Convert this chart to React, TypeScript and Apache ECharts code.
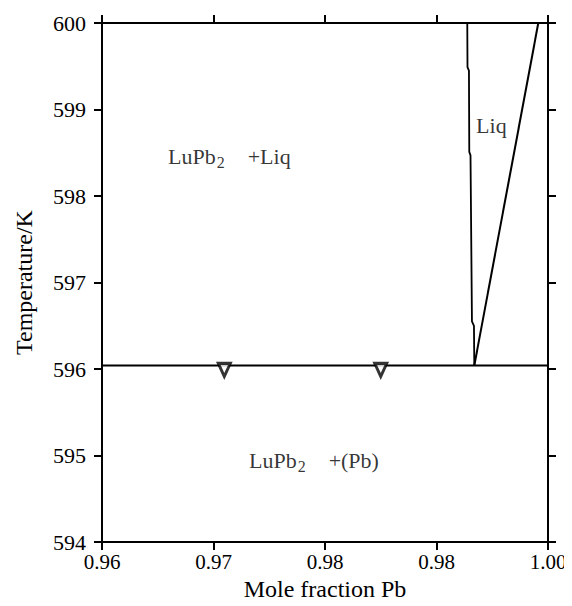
import React, { useEffect, useRef } from "react";
import * as echarts from "echarts";

const xTickLabels = ["0.96", "0.97", "0.98", "0.98", "1.00"];
const yTickLabels = ["594", "595", "596", "597", "598", "599", "600"];

const eutecticT = 596.04;
const eutecticLine: number[][] = [
  [0.96, eutecticT],
  [1.0, eutecticT],
];
const solidusLine: number[][] = [
  [0.99276, 600.0],
  [0.99278, 599.49],
  [0.99291, 599.45],
  [0.99294, 598.51],
  [0.99305, 598.47],
  [0.99318, 596.55],
  [0.99336, 596.5],
  [0.99339, 596.04],
];
const liquidusLine: number[][] = [
  [0.99339, 596.04],
  [0.99913, 600.0],
];
const markers: number[][] = [
  [0.97097, 595.99],
  [0.985, 595.99],
];
const regionLabels = [
  { name: "LuPb|2|+Liq", value: [0.96592, 598.46] },
  { name: "Liq", value: [0.99355, 598.82] },
  { name: "LuPb|2|+(Pb)", value: [0.97318, 594.94] },
];

const FONT = "Liberation Serif";
const INK = "#000";

export default function App() {
  const ref = useRef<HTMLDivElement>(null);
  useEffect(() => {
    if (!ref.current) return;
    const chart = echarts.init(ref.current, undefined, { renderer: "svg" });
    const axisLine = { show: true, onZero: false, lineStyle: { color: "#000", width: 2 } };
    const axisTick = { show: true, inside: false, length: 8, lineStyle: { color: "#000", width: 2 } };
    chart.setOption({
      animation: false,
      backgroundColor: "#fff",
      textStyle: { fontFamily: FONT, color: INK },
      grid: { left: 102, right: 24, top: 23, bottom: 61, containLabel: false },
      xAxis: [
        {
          type: "value",
          min: 0.96,
          max: 1.0,
          interval: 0.01,
          position: "bottom",
          name: "Mole fraction Pb",
          nameLocation: "middle",
          nameGap: 34,
          nameTextStyle: { fontFamily: FONT, fontSize: 24, color: INK },
          axisLine,
          axisTick,
          splitLine: { show: false },
          axisLabel: {
            margin: 9,
            fontFamily: FONT,
            fontSize: 21,
            color: INK,
            formatter: (_v: number, i: number) => xTickLabels[i] ?? "",
          },
        },
        {
          type: "value",
          min: 0.96,
          max: 1.0,
          interval: 0.01,
          position: "top",
          axisLine,
          axisTick,
          splitLine: { show: false },
          axisLabel: { show: false },
        },
      ],
      yAxis: [
        {
          type: "value",
          min: 594,
          max: 600,
          interval: 1,
          position: "left",
          name: "Temperature/K",
          nameLocation: "middle",
          nameGap: 66,
          nameTextStyle: { fontFamily: FONT, fontSize: 24, color: INK },
          axisLine,
          axisTick,
          splitLine: { show: false },
          axisLabel: {
            margin: 16,
            fontFamily: FONT,
            fontSize: 22,
            color: INK,
            formatter: (_v: number, i: number) => yTickLabels[i] ?? "",
          },
        },
        {
          type: "value",
          min: 594,
          max: 600,
          interval: 1,
          position: "right",
          axisLine,
          axisTick,
          splitLine: { show: false },
          axisLabel: { show: false },
        },
      ],
      series: [
        {
          type: "line",
          data: eutecticLine,
          symbol: "none",
          lineStyle: { color: "#000", width: 2 },
        },
        {
          type: "line",
          data: solidusLine,
          symbol: "none",
          lineStyle: { color: "#000", width: 1.8 },
        },
        {
          type: "line",
          data: liquidusLine,
          symbol: "none",
          lineStyle: { color: "#000", width: 2 },
        },
        {
          type: "scatter",
          data: markers,
          symbol: "triangle",
          symbolRotate: 180,
          symbolSize: [12, 13],
          itemStyle: { color: "#fff", borderColor: "#000", borderWidth: 3 },
          z: 5,
        },
        {
          type: "scatter",
          data: regionLabels,
          symbolSize: 0,
          silent: true,
          label: {
            show: true,
            position: "right",
            distance: 0,
            color: INK,
            fontFamily: FONT,
            formatter: (p: any) => {
              const parts = String(p.name).split("|");
              if (parts.length === 1) return `{m|${parts[0]}}`;
              return `{m|${parts[0]}}{s|${parts[1]}}{m|${parts[2]}}`;
            },
            rich: {
              m: { fontFamily: FONT, fontSize: 22, color: INK, lineHeight: 26 },
              s: {
                fontFamily: FONT,
                fontSize: 16,
                color: INK,
                padding: [12, 23, 0, 1],
                lineHeight: 26,
              },
            },
          },
        },
      ],
    });
    return () => chart.dispose();
  }, []);
  return <div ref={ref} style={{ width: 572, height: 606, marginLeft: -8, marginTop: -8 }} />;
}
